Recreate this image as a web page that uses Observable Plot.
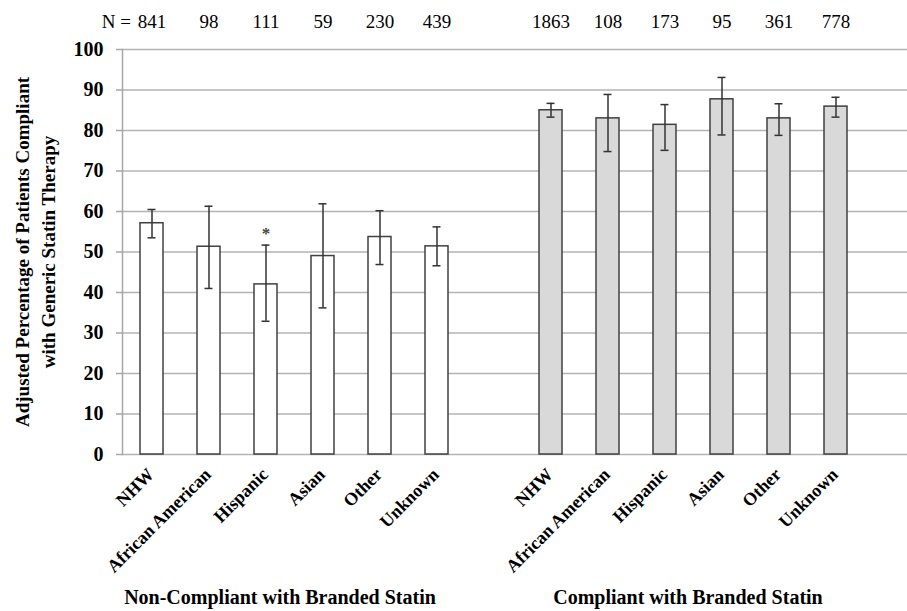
<!DOCTYPE html>
<html><head><meta charset="utf-8">
<script src="https://cdn.jsdelivr.net/npm/d3@7"></script>
<script src="https://cdn.jsdelivr.net/npm/@observablehq/plot@0.6"></script>
<style>
body{margin:0;background:#fff}
#chart svg, #chart svg text, #chart svg tspan { font-family: "Liberation Serif", "Times New Roman", serif !important; }
</style>
</head><body><div id="chart"></div>
<script>
const categories = ["NHW", "African American", "Hispanic", "Asian", "Other", "Unknown"];
const groups = ["Non-Compliant with Branded Statin", "Compliant with Branded Statin"];
const nonCompliantPct = [57.1, 51.3, 42.0, 49.0, 53.7, 51.4];
const nonCompliantLo  = [53.5, 41.0, 32.9, 36.2, 46.9, 46.6];
const nonCompliantHi  = [60.5, 61.3, 51.7, 61.9, 60.2, 56.2];
const compliantPct = [85.0, 83.0, 81.4, 87.7, 83.0, 85.9];
const compliantLo  = [83.3, 74.8, 75.1, 78.9, 78.8, 83.3];
const compliantHi  = [86.7, 88.9, 86.4, 93.1, 86.6, 88.2];
const nonCompliantN = [841, 98, 111, 59, 230, 439];
const compliantN = [1863, 108, 173, 95, 361, 778];
const yTicks = [0, 10, 20, 30, 40, 50, 60, 70, 80, 90, 100];
const nPrefix = "N =";
const significant = [{group: 0, cat: "Hispanic", mark: "*"}];
const yTitle = "Adjusted Percentage of Patients Compliant\nwith Generic Statin Therapy";

const series = [
  {pct: nonCompliantPct, lo: nonCompliantLo, hi: nonCompliantHi, n: nonCompliantN},
  {pct: compliantPct, lo: compliantLo, hi: compliantHi, n: compliantN}
];
const keyOf = (gi, c) => gi + "|" + c;
const rows = [];
groups.forEach((g, gi) => categories.forEach((c, ci) => rows.push({
  key: keyOf(gi, c), group: g, cat: c,
  pct: series[gi].pct[ci], lo: series[gi].lo[ci], hi: series[gi].hi[ci], n: series[gi].n[ci]
})));
const gap = "gap";
const domain = [...categories.map(c => keyOf(0, c)), gap, ...categories.map(c => keyOf(1, c))];
const sigRows = significant.map(s => ({...rows.find(r => r.key === keyOf(s.group, s.cat)), mark: s.mark}));

const serif = "Liberation Serif";

const chart = Plot.plot({
  width: 907, height: 611,
  marginTop: 49, marginBottom: 157, marginLeft: 122, marginRight: 0,
  style: {fontFamily: serif, background: "#fff", color: "#000", overflow: "visible"},
  x: {type: "band", domain, range: [122, 865], paddingInner: 0.6, paddingOuter: 0.3},
  y: {domain: [0, 100]},
  color: {domain: groups, range: ["#ffffff", "#d9d9d9"]},
  marks: [
    Plot.ruleY(yTicks, {stroke: "#b3b3b3", strokeWidth: 1.5}),
    Plot.frame({anchor: "left", stroke: "#a6a6a6", strokeWidth: 1.5}),
    Plot.axisY({ticks: yTicks, tickSize: 6, tickPadding: 13, fontSize: 20, fontWeight: "bold", fontFamily: serif,
      stroke: "#a6a6a6", strokeWidth: 1.5, label: null}),
    Plot.barY(rows, {x: "key", y: "pct", fill: "group", stroke: "#404040", strokeWidth: 1.5}),
    Plot.ruleX(rows, {x: "key", y1: "lo", y2: "hi", stroke: "#333", strokeWidth: 1.5}),
    Plot.tickY(rows, {x: "key", y: "lo", stroke: "#333", strokeWidth: 1.5, insetLeft: 7.5, insetRight: 7.5}),
    Plot.tickY(rows, {x: "key", y: "hi", stroke: "#333", strokeWidth: 1.5, insetLeft: 7.5, insetRight: 7.5}),
    Plot.text(sigRows, {x: "key", y: "hi", text: "mark", dy: -12, fill: "#444", fontSize: 17, fontWeight: "bold", fontFamily: serif}),
    Plot.axisX({tickRotate: -45, tickSize: 0, tickPadding: 17, dx: -1, fontFamily: serif,
      tickFormat: k => k === gap ? "" : k.split("|")[1], fontSize: 18, fontWeight: "bold", label: null}),
    Plot.text(rows, {x: "key", text: d => String(d.n), frameAnchor: "top", dy: -35, fontSize: 19, fontFamily: serif}),
    Plot.text([nPrefix], {x: () => domain[0], text: d => d, frameAnchor: "top", dy: -35, dx: -21, textAnchor: "end", fontSize: 19, fontFamily: serif}),
    Plot.text([groups[0]], {x: () => keyOf(0, "Asian"), text: d => d, frameAnchor: "bottom", dy: 149, dx: -43, fontSize: 20, fontWeight: "bold", fontFamily: serif}),
    Plot.text([groups[1]], {x: () => keyOf(1, "Asian"), text: d => d, frameAnchor: "bottom", dy: 149, dx: -34, fontSize: 20, fontWeight: "bold", fontFamily: serif}),
    Plot.text([yTitle], {frameAnchor: "left", text: d => d, rotate: -90, dx: -89, textAnchor: "middle", fontSize: 19, fontWeight: "bold", lineHeight: 1.4, fontFamily: serif})
  ]
});
document.getElementById("chart").appendChild(chart);
</script>
</body></html>
